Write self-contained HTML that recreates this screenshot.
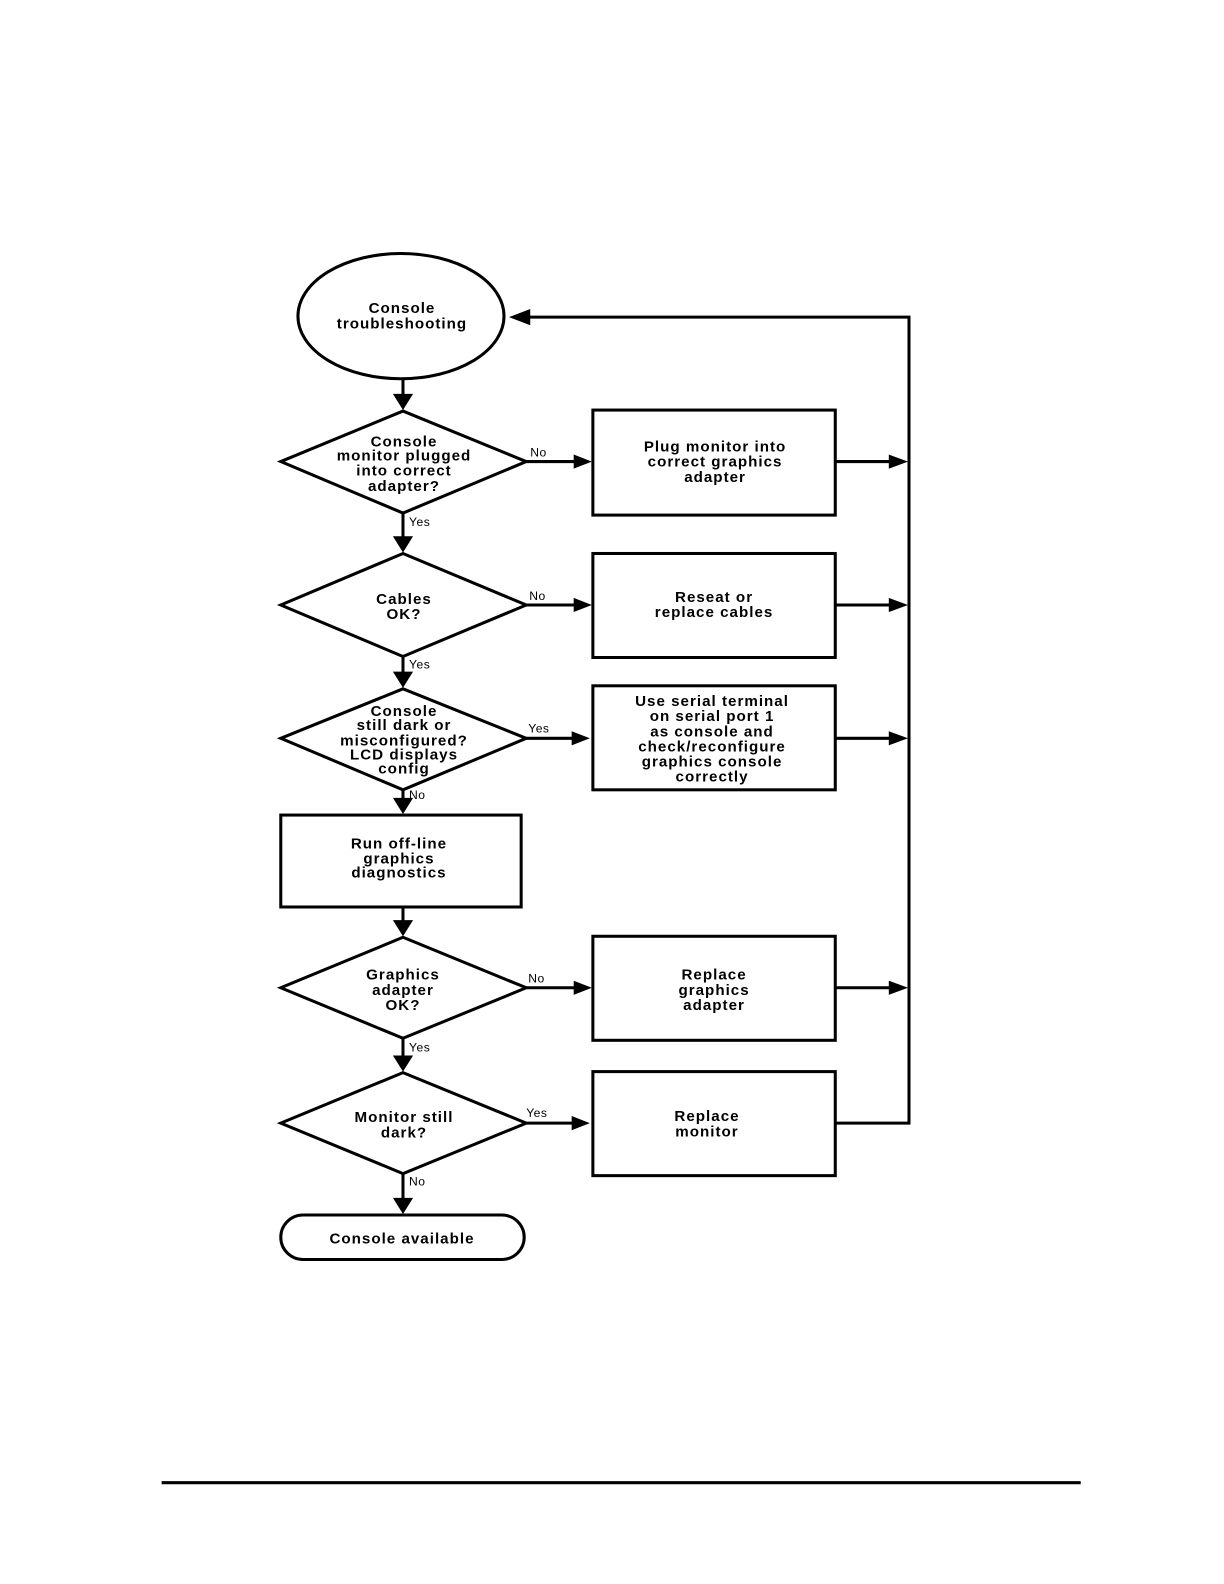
<!DOCTYPE html>
<html><head><meta charset="utf-8"><style>
html,body{margin:0;padding:0;background:#fff;}
svg{display:block;}
text{font-family:"Liberation Sans",sans-serif;font-weight:bold;font-size:15px;letter-spacing:1px;fill:#000;text-anchor:middle;}
.l{font-size:12px;font-weight:normal;letter-spacing:0.5px;text-anchor:start;}
</style></head><body>
<svg width="1224" height="1584" viewBox="0 0 1224 1584" xmlns="http://www.w3.org/2000/svg">
<defs>
<marker id="a" viewBox="0 0 10 10" refX="10" refY="5" markerWidth="7" markerHeight="7" markerUnits="userSpaceOnUse" orient="auto">
<path d="M0,0 L10,5 L0,10 z" fill="#000"/></marker>
</defs>
<g transform="scale(1.01)" stroke="#000" stroke-width="3" fill="none">
<ellipse cx="397" cy="313" rx="102" ry="62" fill="#fff"/>
<!-- vertical main arrows -->
<g stroke-width="3">
<line x1="399" y1="375" x2="399" y2="392"/><path d="M389,390 L409,390 L399,406 z" fill="#000" stroke="none"/>
<line x1="399" y1="508" x2="399" y2="533"/><path d="M389,531 L409,531 L399,547 z" fill="#000" stroke="none"/>
<line x1="399" y1="650" x2="399" y2="667"/><path d="M389,665 L409,665 L399,681 z" fill="#000" stroke="none"/>
<line x1="399" y1="782" x2="399" y2="792"/><path d="M389,790 L409,790 L399,806 z" fill="#000" stroke="none"/>
<line x1="399" y1="898" x2="399" y2="913"/><path d="M389,911 L409,911 L399,927 z" fill="#000" stroke="none"/>
<line x1="399" y1="1028" x2="399" y2="1047"/><path d="M389,1045 L409,1045 L399,1061 z" fill="#000" stroke="none"/>
<line x1="399" y1="1162" x2="399" y2="1188"/><path d="M389,1186 L409,1186 L399,1202 z" fill="#000" stroke="none"/>
</g>
<polygon points="399,407 521,457 399,508 278,457" fill="#fff"/>
<polygon points="399,548 521,599 399,650 278,599" fill="#fff"/>
<polygon points="399,682 521,731 399,782 278,731" fill="#fff"/>
<polygon points="399,928 521,978 399,1028 278,978" fill="#fff"/>
<polygon points="399,1062 521,1112 399,1162 278,1112" fill="#fff"/>
<rect x="587" y="406" width="240" height="104" fill="#fff"/>
<rect x="587" y="548" width="240" height="103" fill="#fff"/>
<rect x="587" y="679" width="240" height="103" fill="#fff"/>
<rect x="278" y="807" width="238" height="91" fill="#fff"/>
<rect x="587" y="927" width="240" height="103" fill="#fff"/>
<rect x="587" y="1061" width="240" height="103" fill="#fff"/>
<rect x="278" y="1203" width="241" height="44" rx="22" fill="#fff"/>
<!-- side arrows -->
<line x1="521" y1="457" x2="572" y2="457"/><path d="M568,450 L586,457 L568,464 z" fill="#000" stroke="none"/>
<line x1="521" y1="599" x2="572" y2="599"/><path d="M568,592 L586,599 L568,606 z" fill="#000" stroke="none"/>
<line x1="521" y1="731" x2="570" y2="731"/><path d="M566,724 L584,731 L566,738 z" fill="#000" stroke="none"/>
<line x1="521" y1="978" x2="572" y2="978"/><path d="M568,971 L586,978 L568,985 z" fill="#000" stroke="none"/>
<line x1="521" y1="1112" x2="570" y2="1112"/><path d="M566,1105 L584,1112 L566,1119 z" fill="#000" stroke="none"/>
<!-- right return -->
<line x1="827" y1="457" x2="885" y2="457"/><path d="M880,450 L899,457 L880,464 z" fill="#000" stroke="none"/>
<line x1="827" y1="599" x2="885" y2="599"/><path d="M880,592 L899,599 L880,606 z" fill="#000" stroke="none"/>
<line x1="827" y1="731" x2="885" y2="731"/><path d="M880,724 L899,731 L880,738 z" fill="#000" stroke="none"/>
<line x1="827" y1="978" x2="885" y2="978"/><path d="M880,971 L899,978 L880,985 z" fill="#000" stroke="none"/>
<polyline points="827,1112 900,1112 900,314 520,314"/>
<path d="M525,306 L504,314 L525,322 z" fill="#000" stroke="none"/>
<line x1="160" y1="1468" x2="1070" y2="1468"/>
</g>
<g transform="scale(1.01)">
<text x="398" y="310">Console</text><text x="398" y="325">troubleshooting</text>
<text x="400" y="442">Console</text><text x="400" y="456">monitor plugged</text><text x="400" y="471">into correct</text><text x="400" y="486">adapter?</text>
<text x="708" y="447">Plug monitor into</text><text x="708" y="462">correct graphics</text><text x="708" y="477">adapter</text>
<text x="400" y="598">Cables</text><text x="400" y="613">OK?</text>
<text x="707" y="596">Reseat or</text><text x="707" y="611">replace cables</text>
<text x="400" y="709">Console</text><text x="400" y="723">still dark or</text><text x="400" y="738">misconfigured?</text><text x="400" y="752">LCD displays</text><text x="400" y="766">config</text>
<text x="705" y="699">Use serial terminal</text><text x="705" y="714">on serial port 1</text><text x="705" y="729">as console and</text><text x="705" y="744">check/reconfigure</text><text x="705" y="759">graphics console</text><text x="705" y="774">correctly</text>
<text x="395" y="840">Run off-line</text><text x="395" y="855">graphics</text><text x="395" y="869">diagnostics</text>
<text x="399" y="970">Graphics</text><text x="399" y="985">adapter</text><text x="399" y="1000">OK?</text>
<text x="707" y="970">Replace</text><text x="707" y="985">graphics</text><text x="707" y="1000">adapter</text>
<text x="400" y="1111">Monitor still</text><text x="400" y="1126">dark?</text>
<text x="700" y="1110">Replace</text><text x="700" y="1125">monitor</text>
<text x="398" y="1231">Console available</text>
<text class="l" x="525" y="452">No</text>
<text class="l" x="405" y="521">Yes</text>
<text class="l" x="524" y="594">No</text>
<text class="l" x="405" y="662">Yes</text>
<text class="l" x="523" y="725">Yes</text>
<text class="l" x="405" y="791">No</text>
<text class="l" x="523" y="973">No</text>
<text class="l" x="405" y="1041">Yes</text>
<text class="l" x="521" y="1106">Yes</text>
<text class="l" x="405" y="1174">No</text>
</g>
</svg>
</body></html>
